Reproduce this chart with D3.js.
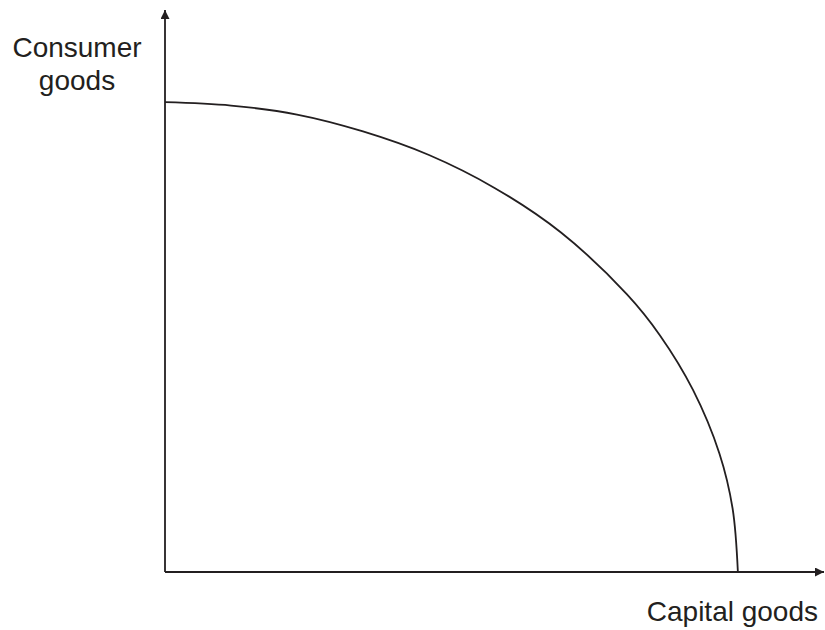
<!DOCTYPE html>
<html>
<head>
<meta charset="utf-8">
<script src="https://cdn.jsdelivr.net/npm/d3@7"></script>
<style>
  body { margin: 0; background: #fff; }
  text { font-family: "Liberation Sans", Arial, sans-serif; fill: #231f20; }
</style>
</head>
<body>
<script>
// production possibility frontier (0-100 units)
var capitalGoods  = [0, 10, 20, 30, 40, 50, 60, 70, 75, 80, 84, 86, 86.8];
var consumerGoods = [83.6, 83.0, 81.4, 78.4, 74.2, 68.3, 60.4, 49.4, 42.1, 32.4, 21.1, 11.3, 0];

var xLabel = "Capital goods";
var yLabel = ["Consumer", "goods"];

var width = 825;
var height = 630;

function init() {
    let svg = d3.select("body")
        .append("svg")
        .attr("width", width)
        .attr("height", height);

    let x = d3.scaleLinear().domain([0, 100]).range([165, 825]);
    let y = d3.scaleLinear().domain([0, 100]).range([572, 10]);

    // arrow head
    svg.append("defs").append("marker")
        .attr("id", "arrow")
        .attr("viewBox", "0 0 10 10")
        .attr("refX", 10)
        .attr("refY", 5)
        .attr("markerWidth", 11)
        .attr("markerHeight", 9)
        .attr("markerUnits", "userSpaceOnUse")
        .attr("orient", "auto")
        .append("path")
        .attr("d", "M0,0 L10,5 L0,10 Z")
        .attr("fill", "#231f20");

    // axes
    svg.append("line")
        .attr("x1", x(0)).attr("y1", y(0))
        .attr("x2", x(0)).attr("y2", y(100))
        .attr("stroke", "#231f20")
        .attr("stroke-width", 1.8)
        .attr("marker-end", "url(#arrow)");

    svg.append("line")
        .attr("x1", x(0)).attr("y1", y(0))
        .attr("x2", x(100) - 1).attr("y2", y(0))
        .attr("stroke", "#231f20")
        .attr("stroke-width", 1.8)
        .attr("marker-end", "url(#arrow)");

    // the curve
    let pts = capitalGoods.map((d, i) => [d, consumerGoods[i]]);
    let line = d3.line()
        .x((d) => x(d[0]))
        .y((d) => y(d[1]))
        .curve(d3.curveCatmullRom);

    svg.append("path")
        .datum(pts)
        .attr("d", line)
        .attr("fill", "none")
        .attr("stroke", "#231f20")
        .attr("stroke-width", 1.8);

    // labels
    svg.append("text")
        .attr("x", 818)
        .attr("y", 621)
        .attr("text-anchor", "end")
        .attr("font-size", "28px")
        .text(xLabel);

    svg.selectAll(".ylab")
        .data(yLabel)
        .enter()
        .append("text")
        .attr("class", "ylab")
        .attr("x", 77)
        .attr("y", (d, i) => 57 + i * 33)
        .attr("text-anchor", "middle")
        .attr("font-size", "28px")
        .text((d) => d);
}

document.addEventListener('DOMContentLoaded', init);
</script>
</body>
</html>
